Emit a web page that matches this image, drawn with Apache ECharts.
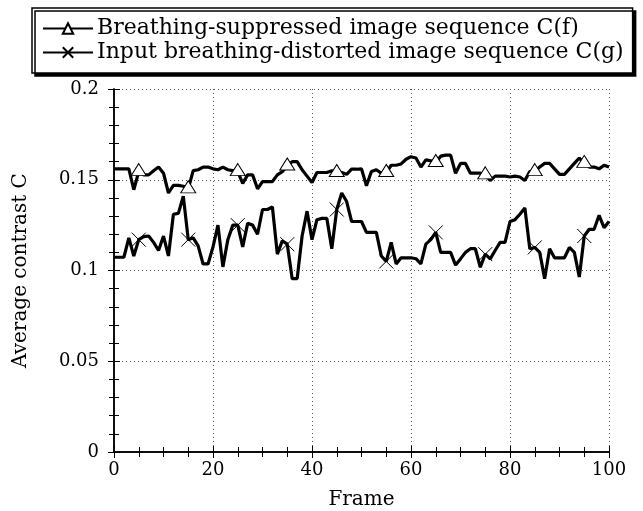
<!DOCTYPE html>
<html>
<head>
    <meta charset="utf-8">
    <title>Average contrast</title>
    <script src="https://cdn.jsdelivr.net/npm/echarts@6/dist/echarts.min.js"></script>
    <style>
        * {
            margin: 0;
            padding: 0
        }

        html, body {
            width: 100%;
            height: 100%;
            background: #fff;
        }

        #main {
            width: 643px;
            height: 511px;
        }
    </style>
</head>
<body>
<div id="main"></div>
</body>

<script type="text/javascript">
    // frame numbers 0..100
    var frames = [];
    for (var i = 0; i <= 100; i++) frames.push(i);

    // breathing-suppressed image sequence C(f)
    var suppressed = [
        0.156, 0.156, 0.156, 0.156, 0.1445, 0.1545, 0.1527, 0.1527, 0.155, 0.157,
        0.1536, 0.1427, 0.1469, 0.1469, 0.1464, 0.145, 0.155, 0.1555, 0.157, 0.157,
        0.156, 0.1555, 0.157, 0.1555, 0.155, 0.1545, 0.148, 0.1527, 0.1527, 0.145,
        0.149, 0.149, 0.149, 0.1527, 0.1545, 0.1576, 0.160, 0.160, 0.1555, 0.152,
        0.1485, 0.154, 0.154, 0.154, 0.155, 0.154, 0.154, 0.153, 0.1558, 0.1558,
        0.156, 0.1467, 0.1545, 0.1555, 0.1536, 0.154, 0.158, 0.158, 0.1587, 0.1613,
        0.1627, 0.162, 0.157, 0.161, 0.1604, 0.1595, 0.163, 0.1636, 0.1636, 0.1536,
        0.159, 0.159, 0.1536, 0.1536, 0.1536, 0.1527, 0.1496, 0.152, 0.152, 0.152,
        0.1515, 0.152, 0.1515, 0.1496, 0.1545, 0.1545, 0.157, 0.159, 0.159, 0.156,
        0.153, 0.153, 0.156, 0.159, 0.162, 0.159, 0.157, 0.157, 0.156, 0.158,
        0.157
    ];

    // input breathing-distorted image sequence C(g)
    var distorted = [
        0.1073, 0.1073, 0.1073, 0.118, 0.108, 0.117, 0.1187, 0.119, 0.1155, 0.111,
        0.119, 0.108, 0.131, 0.1315, 0.141, 0.117, 0.118, 0.1136, 0.1036, 0.1036,
        0.113, 0.125, 0.102, 0.117, 0.125, 0.125, 0.113, 0.126, 0.125, 0.12,
        0.1336, 0.1336, 0.135, 0.109, 0.1164, 0.1145, 0.0955, 0.0955, 0.119, 0.1327,
        0.117, 0.128, 0.1287, 0.1287, 0.112, 0.1336, 0.1427, 0.138, 0.127, 0.127,
        0.127, 0.121, 0.121, 0.121, 0.108, 0.105, 0.1155, 0.1036, 0.107, 0.107,
        0.107, 0.1065, 0.1036, 0.1145, 0.117, 0.121, 0.11, 0.11, 0.11, 0.103,
        0.1064, 0.11, 0.112, 0.112, 0.1018, 0.109, 0.1064, 0.111, 0.1155, 0.1155,
        0.127, 0.128, 0.131, 0.1345, 0.112, 0.1127, 0.11, 0.0955, 0.112, 0.107,
        0.107, 0.107, 0.1127, 0.11, 0.0964, 0.119, 0.1227, 0.1227, 0.1304, 0.1236,
        0.127
    ];

    // frames that carry a marker
    var markerFrames = [5, 15, 25, 35, 45, 55, 65, 75, 85, 95];

    var xTicks = [0, 20, 40, 60, 80, 100];
    var yTicks = [0, 0.05, 0.1, 0.15, 0.2];

    var names = ['Breathing-suppressed image sequence C(f)', 'Input breathing-distorted image sequence C(g)'];

    var font = "'DejaVu Serif', serif";

    function toData(values) {
        var out = [];
        for (var i = 0; i < values.length; i++) {
            var item = {value: [frames[i], values[i]]};
            if (markerFrames.indexOf(frames[i]) < 0) item.symbol = 'none';
            out.push(item);
        }
        return out;
    }

    var tickStyle = {show: true, inside: true, length: 6, lineStyle: {color: '#000', width: 1}};
    var lineAxis = {show: true, lineStyle: {color: '#000', width: 1.5}};

    var myChart = echarts.init(document.getElementById('main'));
    myChart.setOption({
        animation: false,
        backgroundColor: '#fff',
        textStyle: {fontFamily: font, color: '#000'},
        grid: {left: 114, right: 34, top: 89, bottom: 59, outerBoundsMode: 'none'},
        legend: {
            orient: 'vertical',
            left: 32,
            top: 8,
            padding: [9, 9, 9, 10],
            itemGap: 1,
            itemWidth: 50,
            itemHeight: 13,
            backgroundColor: '#fff',
            borderColor: '#000',
            borderWidth: 1.5,
            borderRadius: 0,
            shadowColor: '#000',
            shadowBlur: 0.1,
            shadowOffsetX: 3,
            shadowOffsetY: 3,
            textStyle: {fontFamily: font, fontSize: 22, lineHeight: 23, color: '#000', padding: [0, 0, 0, -1]},
            data: names
        },
        xAxis: [{
            type: 'value',
            min: xTicks[0],
            max: xTicks[xTicks.length - 1],
            interval: 20,
            name: 'Frame',
            nameLocation: 'middle',
            nameGap: 38,
            nameTextStyle: {fontFamily: font, fontSize: 20, color: '#000'},
            axisLine: lineAxis,
            axisTick: tickStyle,
            minorTick: {show: true, splitNumber: 4, length: 5, lineStyle: {color: '#000', width: 1}},
            axisLabel: {fontFamily: font, fontSize: 18, color: '#000', margin: 9},
            splitLine: {show: true, lineStyle: {color: '#555', type: [1, 3], width: 1}}
        }, {
            type: 'value',
            position: 'top',
            min: xTicks[0],
            max: xTicks[xTicks.length - 1],
            interval: 20,
            axisLine: lineAxis,
            axisTick: tickStyle,
            minorTick: {show: true, splitNumber: 4, length: 5, lineStyle: {color: '#000', width: 1}},
            axisLabel: {show: false},
            splitLine: {show: false}
        }],
        yAxis: [{
            type: 'value',
            min: yTicks[0],
            max: yTicks[yTicks.length - 1],
            interval: 0.05,
            name: 'Average contrast C',
            nameLocation: 'middle',
            nameGap: 83,
            nameTextStyle: {fontFamily: font, fontSize: 20, color: '#000'},
            axisLine: lineAxis,
            axisTick: tickStyle,
            minorTick: {show: true, splitNumber: 5, length: 5, lineStyle: {color: '#000', width: 1}},
            axisLabel: {fontFamily: font, fontSize: 18, color: '#000', margin: 15},
            splitLine: {show: true, lineStyle: {color: '#555', type: [1, 3], width: 1}}
        }, {
            type: 'value',
            position: 'right',
            min: yTicks[0],
            max: yTicks[yTicks.length - 1],
            interval: 0.05,
            axisLine: lineAxis,
            axisTick: tickStyle,
            minorTick: {show: true, splitNumber: 5, length: 5, lineStyle: {color: '#000', width: 1}},
            axisLabel: {show: false},
            splitLine: {show: false}
        }],
        series: [{
            name: names[0],
            type: 'line',
            symbol: 'triangle',
            symbolSize: [15, 12],
            symbolOffset: [0, -2],
            itemStyle: {color: '#fff', borderColor: '#000', borderWidth: 1},
            lineStyle: {color: '#000', width: 3.2},
            data: toData(suppressed)
        }, {
            name: names[1],
            type: 'line',
            symbol: 'path://M0,0L10,10M10,0L0,10',
            symbolSize: 14,
            itemStyle: {color: '#fff', borderColor: '#000', borderWidth: 1},
            lineStyle: {color: '#000', width: 3.2},
            data: toData(distorted)
        }]
    });
</script>
</html>
